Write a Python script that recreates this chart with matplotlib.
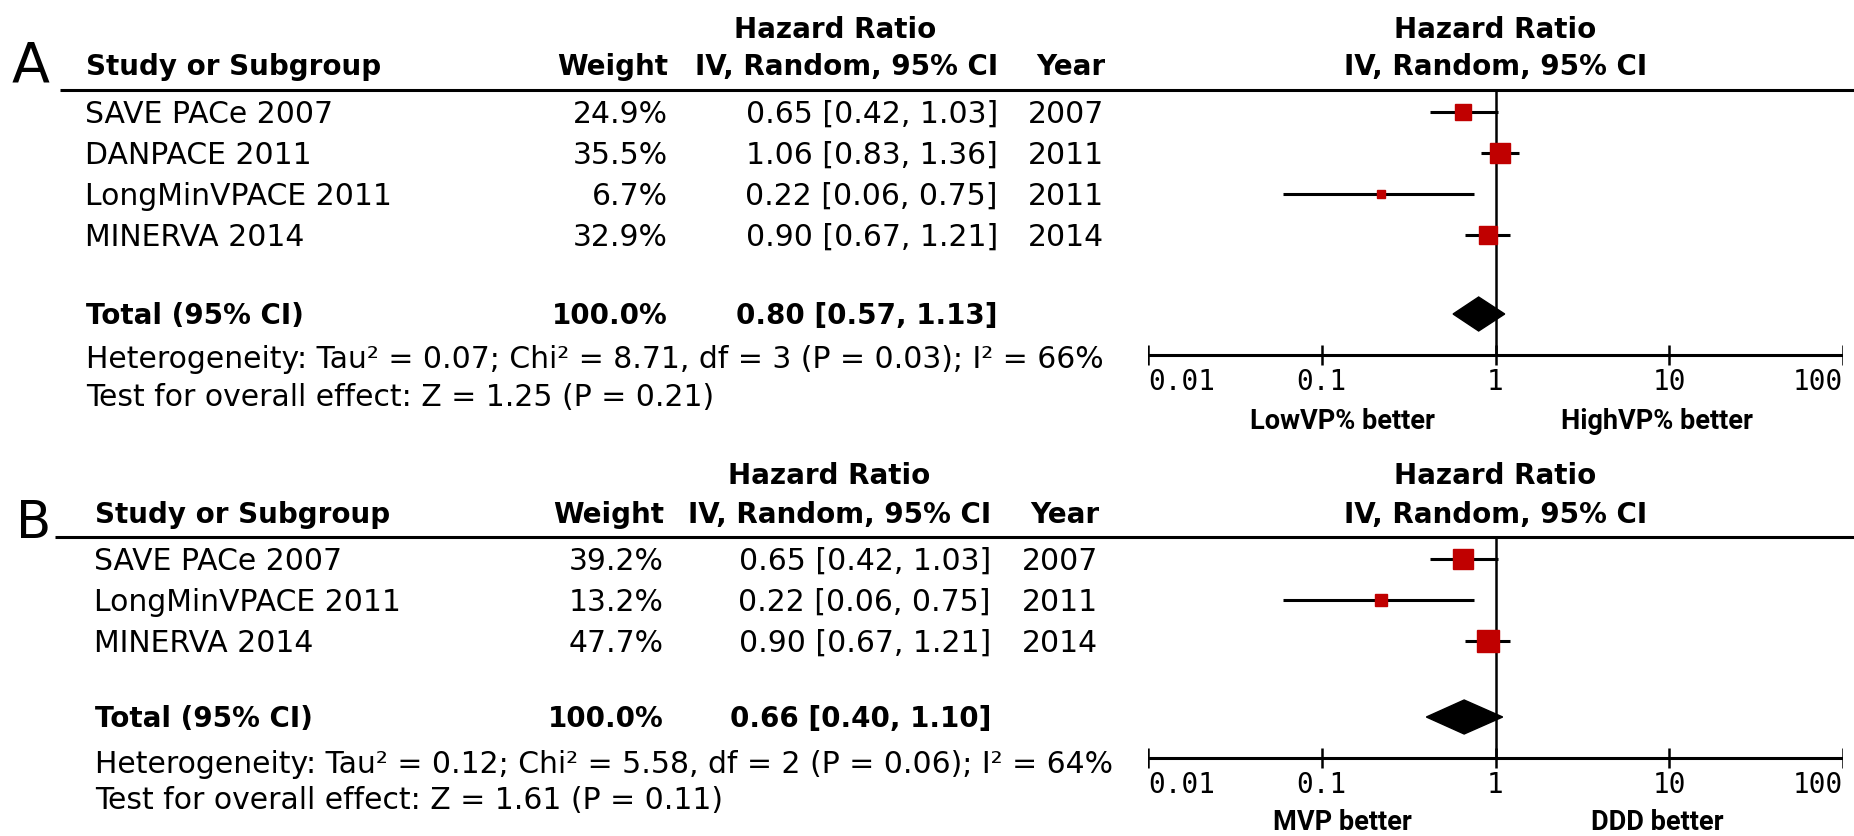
import numpy as np
import matplotlib.pyplot as plt
from matplotlib.patches import Polygon

W, H = 1854, 836

# panel A: low vs high ventricular pacing
studies_a = ["SAVE PACe 2007", "DANPACE 2011", "LongMinVPACE 2011", "MINERVA 2014"]
weights_a = [24.9, 35.5, 6.7, 32.9]
hr_a = [0.65, 1.06, 0.22, 0.90]
lo_a = [0.42, 0.83, 0.06, 0.67]
hi_a = [1.03, 1.36, 0.75, 1.21]
years_a = [2007, 2011, 2011, 2014]
total_weight_a = 100.0
total_a = [0.80, 0.57, 1.13]
het_a = "Heterogeneity: Tau² = 0.07; Chi² = 8.71, df = 3 (P = 0.03); I² = 66%"
test_a = "Test for overall effect: Z = 1.25 (P = 0.21)"
favours_a = ["LowVP% better", "HighVP% better"]

# panel B: MVP vs DDD
studies_b = ["SAVE PACe 2007", "LongMinVPACE 2011", "MINERVA 2014"]
weights_b = [39.2, 13.2, 47.7]
hr_b = [0.65, 0.22, 0.90]
lo_b = [0.42, 0.06, 0.67]
hi_b = [1.03, 0.75, 1.21]
years_b = [2007, 2011, 2014]
total_weight_b = 100.0
total_b = [0.66, 0.40, 1.10]
het_b = "Heterogeneity: Tau² = 0.12; Chi² = 5.58, df = 2 (P = 0.06); I² = 64%"
test_b = "Test for overall effect: Z = 1.61 (P = 0.11)"
favours_b = ["MVP better", "DDD better"]

ticks = [0.01, 0.1, 1, 10, 100]
tick_labels = ["0.01", "0.1", "1", "10", "100"]

RED = "#c00000"
REG = dict(family="DejaVu Sans", fontsize=21.5)
BOLD = dict(family="DejaVu Sans", fontsize=20, fontweight="bold")
MONO = dict(family="DejaVu Sans Mono", fontsize=20)
NARROW = dict(family=["Roboto", "DejaVu Sans"], fontsize=19.5, fontweight="bold")

fig = plt.figure(figsize=(W / 100, H / 100), dpi=100)
fig.patch.set_facecolor("white")

bg = fig.add_axes([0, 0, 1, 1])
bg.set_xlim(0, W)
bg.set_ylim(H, 0)
bg.axis("off")

x_lo, x_hi = 1148, 1843


def panel(letter, let_x, let_y, let_size, studies, weights, hr, lo, hi, years,
          total_weight, total, het, test, favours, lay):
    # text columns
    xl, xw, xc, xy = lay["x_left"], lay["x_weight"], lay["x_ci"], lay["x_year"]
    bg.text(let_x, let_y, letter, fontsize=let_size, family="DejaVu Sans", va="baseline")
    bg.text(lay["x_hr"], lay["y_hr"], "Hazard Ratio", ha="center", va="baseline", **BOLD)
    bg.text(xl + 1, lay["y_head"], "Study or Subgroup", va="baseline", **BOLD)
    bg.text(xw, lay["y_head"], "Weight", ha="right", va="baseline", **BOLD)
    bg.text(xc, lay["y_head"], "IV, Random, 95% CI", ha="right", va="baseline", **BOLD)
    bg.text(xy + 1, lay["y_head"], "Year", ha="right", va="baseline", **BOLD)
    bg.plot([lay["line_x0"], W], [lay["y_line"]] * 2, color="black", lw=2.2,
            solid_capstyle="butt")

    rows = lay["y_row0"] + lay["step"] * np.arange(len(studies))
    for y, s, w, h, l, u, yr in zip(rows, studies, weights, hr, lo, hi, years):
        bg.text(xl, y + 11, s, va="baseline", **REG)
        bg.text(xw, y + 11, f"{w:.1f}%", ha="right", va="baseline", **REG)
        bg.text(xc, y + 11, f"{h:.2f} [{l:.2f}, {u:.2f}]", ha="right", va="baseline", **REG)
        bg.text(xy, y + 11, str(yr), ha="right", va="baseline", **REG)

    yt = lay["y_total"]
    bg.text(xl + 1, yt + 10, "Total (95% CI)", va="baseline", **BOLD)
    bg.text(xw, yt + 10, f"{total_weight:.1f}%", ha="right", va="baseline", **BOLD)
    bg.text(xc, yt + 10, f"{total[0]:.2f} [{total[1]:.2f}, {total[2]:.2f}]",
            ha="right", va="baseline", **BOLD)
    bg.text(xl + 1, lay["y_het"] + 11, het, va="baseline", **REG)
    bg.text(xl + 1, lay["y_test"] + 11, test, va="baseline", **REG)

    # forest plot on a log axis
    fa = fig.add_axes([x_lo / W, 0, (x_hi - x_lo) / W, 1])
    fa.set_xscale("log")
    fa.set_xlim(0.01, 100)
    fa.set_ylim(H, 0)
    fa.axis("off")
    fa.patch.set_alpha(0)

    fa.text(1, lay["y_hr"], "Hazard Ratio", ha="center", va="baseline", **BOLD)
    fa.text(1, lay["y_head"], "IV, Random, 95% CI", ha="center", va="baseline", **BOLD)

    ya = lay["y_axis"]
    fa.vlines(1, lay["y_line"], ya, color="black", lw=1.8)
    fa.hlines(rows, lo, hi, color="black", lw=2.2)
    for y, w, h in zip(rows, weights, hr):
        side = 3.3 * np.sqrt(w)
        fa.plot([h], [y], marker="s", ms=side * 0.72, color=RED, mec=RED, ls="none", zorder=3)

    dh = 17
    fa.add_patch(Polygon([(total[1], yt), (total[0], yt - dh), (total[2], yt),
                          (total[0], yt + dh)], closed=True, color="black", zorder=3))

    fa.hlines(ya, ticks[0], ticks[-1], color="black", lw=2.2)
    fa.vlines(ticks, ya - 10, ya + 10, color="black", lw=1.8)
    aligns = ["left"] + ["center"] * (len(ticks) - 2) + ["right"]
    for t, lab, al in zip(ticks, tick_labels, aligns):
        fa.text(t, lay["y_tick"] + 11, lab, ha=al, va="baseline", **MONO)

    bg.text(1342, lay["y_fav"] + 10, favours[0], ha="center", va="baseline", **NARROW)
    bg.text(1657, lay["y_fav"] + 10, favours[1], ha="center", va="baseline", **NARROW)


lay_a = dict(x_left=85, x_weight=668, x_ci=998, x_year=1104, x_hr=835,
             y_hr=38, y_head=75, y_line=90, line_x0=60, y_row0=112, step=41,
             y_total=314, y_het=357, y_test=395, y_axis=355, y_tick=379, y_fav=419)
lay_b = dict(x_left=94, x_weight=664, x_ci=991, x_year=1098, x_hr=829,
             y_hr=484, y_head=523, y_line=537, line_x0=55, y_row0=559, step=41,
             y_total=717, y_het=762, y_test=798, y_axis=758, y_tick=782, y_fav=820)

panel("A", 12, 82, 40, studies_a, weights_a, hr_a, lo_a, hi_a, years_a,
      total_weight_a, total_a, het_a, test_a, favours_a, lay_a)
panel("B", 16, 538, 37, studies_b, weights_b, hr_b, lo_b, hi_b, years_b,
      total_weight_b, total_b, het_b, test_b, favours_b, lay_b)

fig.savefig("out.png", dpi=100, facecolor="white")
